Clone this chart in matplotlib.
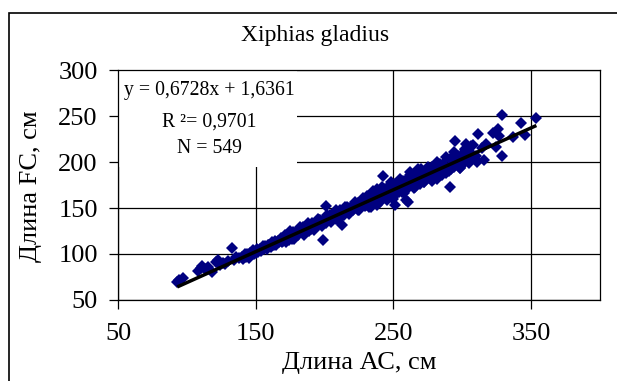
import matplotlib
matplotlib.use('Agg')
import matplotlib.pyplot as plt
from matplotlib.patches import Rectangle

plt.rcParams['font.family'] = ['Liberation Serif', 'DejaVu Serif']

# длина AC (x) и длина FC (y), см
ac_low = [93, 94.5, 97, 108, 110, 111, 113, 115, 118, 121, 122.5, 124, 126, 128, 130, 133, 134, 136, 138]
fc_low = [70, 71.5, 74, 82, 85, 86.5, 84, 86, 80, 91, 93, 88, 90.5, 89, 92, 106, 93, 97, 96]

ac_band = list(range(140, 311))
fc_band = [
    97, 94.5, 100, 97, 100.5, 96, 101, 99.5, 104, 100,
    101.5, 105, 102, 105.5, 103, 109, 105.5, 109, 105, 109.5,
    110, 108, 113.5, 110, 114, 109.5, 114, 113, 117.5, 113.5,
    114, 120.5, 113.5, 119, 115.5, 124.5, 119, 123.5, 116.5, 124,
    124.5, 120.5, 129, 123.5, 128.5, 121, 127.5, 125.5, 134, 125,
    127.5, 134, 127, 132.5, 129, 138, 132.5, 137, 130, 137.5,
    138, 134, 142.5, 137, 142, 134.5, 141, 139, 147.5, 138.5,
    141, 147.5, 140.5, 146, 142.5, 151.5, 146, 150.5, 143.5, 151,
    151.5, 147.5, 156, 150.5, 155.5, 148, 154.5, 152.5, 161, 152,
    153.5, 163, 151.5, 160.5, 154, 168, 158.5, 166, 153, 165.5,
    166, 159, 172.5, 163, 171, 158.5, 169, 165, 178.5, 163,
    167, 176.5, 165, 174, 167.5, 181, 172, 179.5, 166, 179,
    179.5, 172.5, 186, 176.5, 184.5, 172, 182.5, 178.5, 192, 176.5,
    180.5, 190, 178.5, 187.5, 181, 194.5, 185.5, 193, 179.5, 192.5,
    193, 185.5, 199.5, 190, 197.5, 185.5, 196, 191.5, 205.5, 190,
    194, 203.5, 192, 201, 194.5, 208, 199, 206.5, 193, 206,
    206.5, 199, 213, 203.5, 211, 199, 209.5, 205, 219, 203.5,
    207,
]

ac_fill = [172, 176, 180, 184, 188, 192, 196, 200, 204, 208, 212, 216, 220, 224, 228,
           232, 236, 240, 244, 248, 252, 256, 260, 264, 268, 272, 276, 280, 284, 288,
           292, 296, 300]
fc_fill = [119.5, 116.5, 123.5, 129.5, 126.5, 126.5, 136.5, 135.5, 141.5, 138, 145, 151, 148, 148, 158,
           156.5, 164.5, 157, 167, 175.5, 168, 167, 181.5, 178.5, 186, 178.5, 188.5, 197, 189.5, 188.5,
           203, 200, 207.5]

ac_wide = [234, 238, 242, 246, 250, 254, 258, 262, 266, 270, 274, 278, 282, 286, 290, 294, 298, 302, 306]
fc_wide = [151, 171, 159.5, 173, 160, 176.5, 168, 189, 172.5, 192.5, 181, 194.5, 181.5, 198, 190, 210.5,
           194, 214, 202.5]

ac_out = [329.2, 353.8, 342.5, 345.7, 329.2, 336.5, 311.4, 294.7, 325.9, 322, 326.8, 324.4,
          316, 311, 291, 259, 302.7, 306, 317, 314, 242.2, 251.5, 201, 198.6, 213, 260.6]
fc_out = [251, 247.5, 242.7, 229.3, 206, 227.5, 230.1, 222.8, 235.5, 231, 228, 216.6,
          202, 200, 172.5, 158.7, 220, 217, 220, 215, 184.8, 153.3, 152.7, 115.4, 131, 156.5]

ac = ac_low + ac_band + ac_fill + ac_wide + ac_out
fc = fc_low + fc_band + fc_fill + fc_wide + fc_out

slope, intercept = 0.6728, 1.6361
eq_lines = ['y = 0,6728x + 1,6361', 'R ²= 0,9701', 'N = 549']

fig = plt.figure(figsize=(6.17, 3.81), dpi=100)
# рамка диаграммы
fig.patches.append(Rectangle((9 / 617, -0.1), 1.2, 1 - 13 / 381 + 0.1,
                             transform=fig.transFigure, fill=False, ec='black', lw=1.2))

ax = fig.add_axes([118 / 617, 1 - 300 / 381, 482 / 617, 230 / 381])
ax.set_xlim(50, 400)
ax.set_ylim(50, 300)
ax.set_xticks([50, 150, 250, 350])
ax.set_yticks([50, 100, 150, 200, 250, 300])
ax.set_axisbelow(True)
ax.grid(True, color='black', lw=0.9)
for s in ax.spines.values():
    s.set_color('black')
    s.set_linewidth(0.9)
ax.tick_params(axis='x', direction='out', length=6.5, width=0.9, pad=10, labelsize=19)
ax.tick_params(axis='y', direction='out', length=6.5, width=0.9, pad=8, labelsize=19)

ax.plot(ac, fc, linestyle='none', marker='D', ms=6.3, mew=0, color='#000080', zorder=3)
x0, x1 = min(ac), max(ac)
ax.plot([x0, x1], [slope * x0 + intercept, slope * x1 + intercept],
        color='black', lw=2.5, zorder=4, solid_capstyle='butt')

# белая подложка под уравнением
ax.add_patch(Rectangle((0, 1 - 97 / 230), 179 / 482, 97 / 230, transform=ax.transAxes,
                       facecolor='white', edgecolor='none', zorder=1.5))
ax.text(6 / 482, 1 - 20 / 230, eq_lines[0], transform=ax.transAxes, fontsize=14.2,
        ha='left', va='center', zorder=5)
ax.text(91 / 482, 1 - 52 / 230, eq_lines[1], transform=ax.transAxes, fontsize=14.2,
        ha='center', va='center', zorder=5)
ax.text(91 / 482, 1 - 78 / 230, eq_lines[2], transform=ax.transAxes, fontsize=14.2,
        ha='center', va='center', zorder=5)

fig.text(315 / 617, 1 - 36 / 381, 'Xiphias gladius', ha='center', va='center', fontsize=17)
fig.text(31 / 617, 1 - 186 / 381, 'Длина FC, см', rotation=90, ha='center', va='center', fontsize=19)
fig.text(359 / 617, 1 - 363 / 381, 'Длина АС, см', ha='center', va='center', fontsize=19)

fig.savefig('out.png', dpi=100)
